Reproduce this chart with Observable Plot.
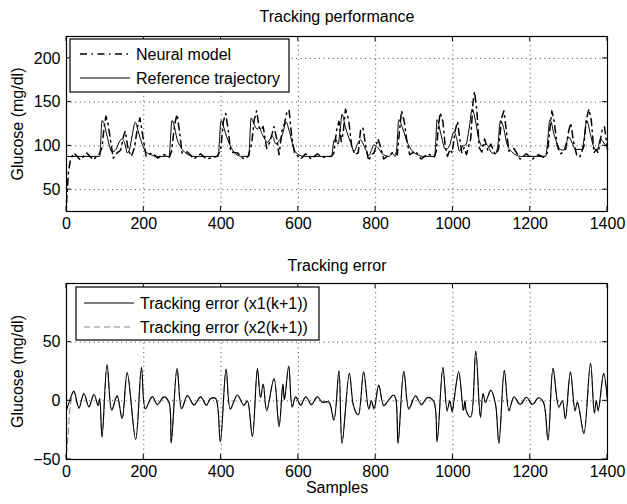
<!DOCTYPE html>
<html><head><meta charset="utf-8">
<script src="https://cdn.jsdelivr.net/npm/d3@7"></script>
<script src="https://cdn.jsdelivr.net/npm/@observablehq/plot@0.6"></script>
<style>
body{margin:0;background:#fff;}
#wrap{position:relative;width:627px;height:504px;background:#fff;}
#wrap svg{position:absolute;left:0;}
</style></head><body><div id="wrap"></div>
<script>
// ---------- data ----------
const xTicks = [0, 200, 400, 600, 800, 1000, 1200, 1400];
const topYTicks = [50, 100, 150, 200];
const botYTicks = [-50, 0, 50];
const topTitle = "Tracking performance";
const botTitle = "Tracking error";
const yLabel = "Glucose (mg/dl)";
const xLabel = "Samples";
const topLegend = ["Neural model", "Reference trajectory"];
const botLegend = ["Tracking error (x1(k+1))", "Tracking error (x2(k+1))"];

// reference trajectory
const refX = [0,86,88,92,96,105,118,128,136,144,152,157,163,170,178,186,196,204,213,221,230,266,268,273,278,286,295,303,315,330,393,395,400,405,411,424,437,454,472,474,478,485,494,498,507,514,520,527,533,542,550,559,565,569,574,580,589,602,615,686,692,696,703,708,713,722,735,744,755,761,768,774,783,789,795,804,817,834,844,851,855,860,869,882,895,908,921,953,955,959,968,981,990,1003,1010,1017,1026,1033,1042,1050,1059,1067,1076,1086,1101,1111,1116,1123,1132,1140,1153,1175,1240,1244,1251,1263,1278,1286,1293,1300,1308,1317,1334,1340,1346,1356,1365,1373,1382,1391,1400];
const refY = [88,88,100,129,127,111,93,96,104,108,101,92,96,112,127,116,102,94,91,89.5,88,88,100,129,124,108,99,94,90,88,88,100,129,124,115,100,91,88,88,105,132,125,119,121,113,107,104,108,111,102,106,113,124,127,121,111,96,89.5,88,88,106,108,102,118,136,121,104,94,104,107,102,96,89,95,101,99,91,88,91,88,100,130,121,104,94,90,88,88,100,130,115,96,99,116,108,94,100,101,120,142,127,108,100,102,92,91,100,129,119,102,93,88,88,100,130,111,96,95,103,110,104,96,96,110,129,113,98,95,108,103,98];

// neural model
const neurX = [0,5,10,19,36,52,69,85,92,97,102,108,116,121,131,140,148,152,160,168,176,184,190,198,206,222,236,252,266,272,280,286,292,299,313,330,347,362,390,399,406,412,418,425,442,459,470,479,486,492,498,503,509,518,527,537,544,550,558,564,570,576,583,590,606,619,634,649,662,686,692,699,705,711,716,722,730,738,746,755,761,767,775,782,789,796,806,812,821,833,846,856,862,867,874,880,888,903,918,935,951,957,962,967,974,980,986,992,998,1006,1012,1017,1023,1029,1035,1046,1052,1056,1062,1068,1075,1082,1090,1098,1110,1118,1126,1132,1138,1145,1158,1174,1190,1206,1221,1234,1244,1250,1256,1262,1270,1278,1286,1292,1300,1305,1312,1320,1328,1339,1345,1352,1358,1365,1371,1376,1386,1392,1400];
const neurY = [35,70,84,92,84,92,84,91,98,120,134,124,100,86,92,95,112,117,95,88,98,122,132,110,88,92,86,90,87,94,125,136,118,92,93,85,91,85,88,96,128,137,120,93,92,85,88,102,130,140,122,118,122,97,105,122,108,90,118,125,138,141,110,92,85,91,85,91,87,88,92,118,128,105,115,142,130,100,90,92,118,121,98,83,90,92,108,100,85,89,93,90,118,140,128,108,90,94,85,91,87,94,120,138,128,100,88,96,92,118,128,110,92,98,90,108,150,162,140,98,93,108,95,102,90,96,132,140,118,94,97,85,91,85,90,87,92,115,140,128,100,91,93,97,118,126,105,90,87,100,130,142,130,92,96,92,118,122,96];

// tracking error x1(k+1)
const errX1 = [0,6,19,32,45,58,71,82,86,92,105,117,131,144,157,179,194,204,222,235,252,265,271,286,298,313,330,347,362,373,386,398,413,424,442,459,468,481,494,502,509,518,537,550,560,564,575,584,593,606,619,634,649,662,679,692,705,713,732,743,755,769,782,789,796,808,821,833,846,852,858,873,886,903,918,935,951,959,974,985,992,998,1003,1015,1027,1031,1035,1046,1059,1071,1078,1084,1098,1110,1119,1133,1145,1158,1174,1190,1206,1221,1234,1246,1259,1274,1283,1291,1304,1316,1322,1328,1339,1356,1366,1371,1376,1390,1400];
const errY1 = [-8,-2,8.3,-6,6.3,-5,5.4,-4,2,-31,31,-7.7,4.4,-15,24,-33,28.5,-6.6,3.6,-3,3.4,-1,-36,27.7,-6.6,4.5,-3.5,3.4,-3.5,2,2,-35,27,-6.6,5,-3.8,0,-30.6,27.7,2.8,14.3,-8,19,-22,14.3,1,29.7,-5,3.5,-3.5,3.5,-3,3.5,-1,-1,-16.5,25.6,-36.4,23.4,-4.5,-12,24.8,-6.6,0,-6.6,13.4,-4,0.5,5,2,-36.4,25.4,-6.6,4.3,-3,3,-1,-35,28.5,-8,0,-9,1,25,-8,0,-9,-13.7,42.5,-13.7,6.3,-1,9.1,-2.3,-36.4,26,-8,3.5,-3,3,-3,2.6,-1,-33.6,27.7,-5,0,-15,24.8,-8,-1,-9,-28,32,-10,0,-8,23.4,0];

// tracking error x2(k+1)
const errX2 = [0,4,10,19,32,45,58,71,82,86,92,105,117,131,144,157,179,194,204,222,235,252,265,271,286,298,313,330,347,362,373,386,398,413,424,442,459,468,481,494,502,509,518,537,550,560,564,575,584,593,606,619,634,649,662,679,692,705,713,732,743,755,769,782,789,796,808,821,833,846,852,858,873,886,903,918,935,951,959,974,985,992,998,1003,1015,1027,1031,1035,1046,1059,1071,1078,1084,1098,1110,1119,1133,1145,1158,1174,1190,1206,1221,1234,1246,1259,1274,1283,1291,1304,1316,1322,1328,1339,1356,1366,1371,1376,1390,1400];
const errY2 = [-45,-30,-4,8,-6.5,6,-5.5,5,-4.5,2,-30,30,-8.5,4,-15.5,23.5,-32,28,-7,3.3,-3.5,3,-1.5,-35,27,-7.2,4.2,-4,3,-4,1.5,1.5,-34,26.5,-7.5,4.6,-4.3,-0.5,-30,27,2,13.8,-9,18.5,-21,13.8,0,29,-5.8,3.2,-4,3.2,-3.6,3.2,-1.5,-1.5,-16,25,-35.5,23,-5.5,-12.5,24.2,-7.5,-0.8,-7.5,13,-4.6,0,4.6,1.5,-35.5,25,-7.5,4,-3.6,2.6,-1.5,-34,28,-9,-0.5,-10,0.5,24.5,-9.5,-0.5,-10,-14,42,-14.5,5.8,-1.8,8.7,-3,-35.5,25.5,-9,3,-3.5,2.6,-3.6,2.2,-1.5,-33,27.2,-6,-0.5,-15.5,24.2,-9,-1.8,-10,-27.5,31.5,-11,-0.5,-9,23,-0.5];

// ---------- build ----------
const toRows = (xs, ys) => xs.map((x, i) => ({x, y: ys[i]}));
const ref = toRows(refX, refY);
const neur = toRows(neurX, neurY);
const err1 = toRows(errX1, errY1);
const err2 = toRows(errX2, errY2);

const FONT = "'Liberation Sans', Arial, Helvetica, sans-serif";
const fmt = d => d < 0 ? "\u2212" + Math.abs(d) : String(d);
const gridStyle = {stroke: "#000", strokeOpacity: 0.75, strokeDasharray: "1,3.6", strokeWidth: 1};
const NEUR_DASH = "7,4.5,1.5,4.5";

function makePlot({height, marginTop, marginBottom, yDomain, yTicks, title, titleDy, lines, showXLabel}) {
  const marks = [
    Plot.gridX(xTicks, gridStyle),
    Plot.gridY(yTicks, gridStyle),
    ...lines,
    Plot.frame({stroke: "black", strokeWidth: 1.2}),
    Plot.axisX(xTicks, {tickSize: 0, tickPadding: 6, tickFormat: fmt, label: null}),
    Plot.axisY(yTicks, {tickSize: 0, tickPadding: 6, tickFormat: fmt, label: null}),
    Plot.text([title], {text: d => d, frameAnchor: "top", dy: titleDy, lineAnchor: "middle", fontSize: 16}),
    Plot.text([yLabel], {text: d => d, frameAnchor: "left", dx: -49, rotate: -90, lineAnchor: "middle", textAnchor: "middle", fontSize: 16})
  ];
  if (showXLabel) marks.push(Plot.text([xLabel], {text: d => d, frameAnchor: "bottom", dy: 28, lineAnchor: "middle", fontSize: 16}));
  return Plot.plot({
    width: 627, height, marginLeft: 66, marginRight: 20, marginTop, marginBottom,
    style: {fontFamily: FONT, fontSize: "16px", background: "white", overflow: "visible"},
    x: {domain: [0, 1400], label: null},
    y: {domain: yDomain, label: null},
    marks
  });
}

function innerTicks(svg, yTicksArr) {
  const sx = svg.scale("x"), sy = svg.scale("y");
  const [x0, x1] = [sx.apply(0), sx.apply(1400)];
  const [yb, yt] = [sy.apply(sy.domain[0]), sy.apply(sy.domain[1])];
  const g = d3.select(svg).append("g").attr("stroke", "black").attr("stroke-width", 1);
  xTicks.forEach(v => {
    const x = sx.apply(v);
    g.append("line").attr("x1", x).attr("x2", x).attr("y1", yb).attr("y2", yb - 5);
    g.append("line").attr("x1", x).attr("x2", x).attr("y1", yt).attr("y2", yt + 5);
  });
  yTicksArr.forEach(v => {
    const y = sy.apply(v);
    g.append("line").attr("x1", x0).attr("x2", x0 + 5).attr("y1", y).attr("y2", y);
    g.append("line").attr("x1", x1).attr("x2", x1 - 5).attr("y1", y).attr("y2", y);
  });
}

function legend(svg, box, items) {
  const g = d3.select(svg).append("g").style("font-family", FONT).style("font-size", "16px");
  g.append("rect").attr("x", box.x).attr("y", box.y).attr("width", box.w).attr("height", box.h)
    .attr("fill", "white").attr("stroke", "black").attr("stroke-width", 1.2);
  items.forEach((it, i) => {
    const y = box.y + box.first + i * box.step;
    g.append("line").attr("x1", box.lx1).attr("x2", box.lx2).attr("y1", y).attr("y2", y)
      .attr("stroke", it.stroke).attr("stroke-width", it.width).attr("stroke-dasharray", it.dash || null);
    g.append("text").attr("x", box.tx).attr("y", y).attr("dy", "0.35em")
      .attr("text-anchor", "start").attr("fill", "black").text(it.label);
  });
}

const wrap = document.getElementById("wrap");

const topPlot = makePlot({
  height: 250, marginTop: 36, marginBottom: 39, yDomain: [25, 225], yTicks: topYTicks,
  title: topTitle, titleDy: -20, showXLabel: false,
  lines: [
    Plot.line(ref, {x: "x", y: "y", stroke: "black", strokeWidth: 1, curve: "monotone-x"}),
    Plot.line(neur, {x: "x", y: "y", stroke: "black", strokeWidth: 1.5, strokeDasharray: NEUR_DASH})
  ]
});
topPlot.style.top = "0px";
wrap.appendChild(topPlot);
innerTicks(topPlot, topYTicks);
legend(topPlot, {x: 70, y: 39, w: 219, h: 53, first: 15, step: 24, lx1: 80, lx2: 130, tx: 136}, [
  {label: topLegend[0], stroke: "black", width: 1.5, dash: NEUR_DASH},
  {label: topLegend[1], stroke: "black", width: 1}
]);

const botPlot = makePlot({
  height: 254, marginTop: 33, marginBottom: 45, yDomain: [-50, 100], yTicks: botYTicks,
  title: botTitle, titleDy: -18, showXLabel: true,
  lines: [
    Plot.line(err2, {x: "x", y: "y", stroke: "#888", strokeWidth: 1.1, strokeDasharray: "6,4", curve: "catmull-rom"}),
    Plot.line(err1, {x: "x", y: "y", stroke: "black", strokeWidth: 1.1, curve: "catmull-rom"})
  ]
});
botPlot.style.top = "250px";
wrap.appendChild(botPlot);
innerTicks(botPlot, botYTicks);
legend(botPlot, {x: 76, y: 37, w: 243, h: 53, first: 16, step: 24, lx1: 84, lx2: 134, tx: 140}, [
  {label: botLegend[0], stroke: "black", width: 1.1},
  {label: botLegend[1], stroke: "#888", width: 1.1, dash: "6,4"}
]);
</script>
</body></html>
